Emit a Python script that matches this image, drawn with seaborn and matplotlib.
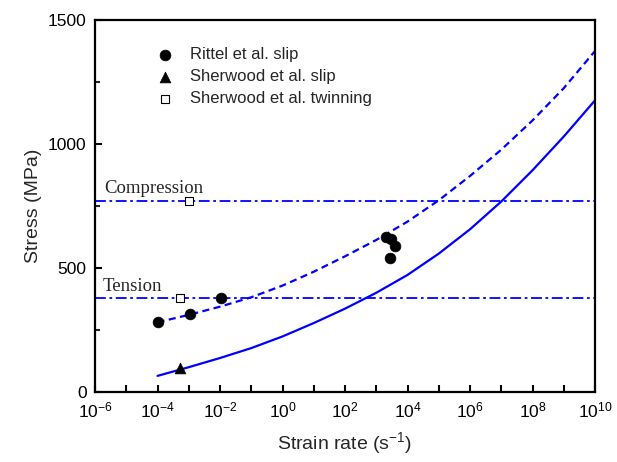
import numpy as np
import pandas as pd
import matplotlib
matplotlib.use("Agg")
import matplotlib.pyplot as plt
from matplotlib.ticker import FixedLocator
import seaborn as sns

# ---------------- data ----------------
rittel_rate = [1.0e-4, 1.1e-3, 1.1e-2, 2.0e3, 3.0e3, 3.9e3, 2.85e3]
rittel_stress = [281, 314, 378, 624, 617, 589, 539]

sher_slip_rate = [5.2e-4]
sher_slip_stress = [95]

sher_twin_rate = [1.0e-3, 5.2e-4]
sher_twin_stress = [770, 378]

compression_stress = 770
tension_stress = 378

curve_rate = [1e-4, 1e-3, 1e-2, 1e-1, 1e0, 1e1, 1e2, 1e3, 1e4, 1e5, 1e6, 1e7, 1e8, 1e9, 1e10]
dashed_stress = [281, 311, 344, 382, 429, 485, 547, 613, 687, 773, 871, 977, 1095, 1225, 1375]
solid_stress = [65, 100, 137, 177, 224, 278, 336, 400, 472, 558, 656, 768, 894, 1030, 1176]

x_tick_values = [1e-6, 1e-5, 1e-4, 1e-3, 1e-2, 1e-1, 1e0, 1e1, 1e2, 1e3, 1e4, 1e5, 1e6, 1e7, 1e8, 1e9, 1e10]
x_tick_labels = ["-6", "", "-4", "", "-2", "", "0", "", "2", "", "4", "", "6", "", "8", "", "10"]
y_tick_values = [0, 500, 1000, 1500]
y_minor_values = [250, 750, 1250]

legend_labels = ["Rittel et al. slip", "Sherwood et al. slip", "Sherwood et al. twinning"]

# ---------------- style ----------------
sns.set_theme(style="ticks")
plt.rcParams["font.family"] = ["Liberation Sans", "DejaVu Sans"]
plt.rcParams["mathtext.default"] = "regular"

fig = plt.figure(figsize=(6.17, 4.62), dpi=100)
ax = fig.add_axes([95 / 617, 1 - 392 / 462, 500 / 617, 372 / 462])

blue = "#0000FF"

curves = pd.DataFrame({"rate": curve_rate, "dashed": dashed_stress, "solid": solid_stress})
sns.lineplot(data=curves, x="rate", y="dashed", ax=ax, color=blue, lw=1.6,
             legend=False, label="_nolegend_")
ax.lines[-1].set_dashes((3.2, 2.0))
sns.lineplot(data=curves, x="rate", y="solid", ax=ax, color=blue, lw=1.6,
             legend=False, label="_nolegend_")

ax.axhline(compression_stress, color=blue, lw=1.3, dashes=(6, 2, 1.5, 2))
ax.axhline(tension_stress, color=blue, lw=1.3, dashes=(6, 2, 1.5, 2))

sns.scatterplot(x=rittel_rate, y=rittel_stress, ax=ax, marker="o", s=60,
                color="black", edgecolor="black", linewidth=0.5, label=legend_labels[0], zorder=5)
sns.scatterplot(x=sher_slip_rate, y=sher_slip_stress, ax=ax, marker="^", s=60,
                color="black", edgecolor="black", linewidth=0.5, label=legend_labels[1], zorder=5)
sns.scatterplot(x=sher_twin_rate, y=sher_twin_stress, ax=ax, marker="s", s=38,
                color="white", edgecolor="black", linewidth=0.8, label=legend_labels[2], zorder=5)

ax.text(10 ** -5.71, 802, "Compression", family=["Liberation Serif", "DejaVu Serif"],
        fontsize=13.5, va="baseline", ha="left")
ax.text(10 ** -5.75, 407, "Tension", family=["Liberation Serif", "DejaVu Serif"],
        fontsize=13.5, va="baseline", ha="left")

ax.set_xscale("log")
ax.set_xlim(1e-6, 1e10)
ax.set_ylim(0, 1500)

ax.xaxis.set_major_locator(FixedLocator(x_tick_values))
ax.set_xticklabels([("$10^{%s}$" % t) if t else "" for t in x_tick_labels])
ax.xaxis.set_minor_locator(FixedLocator([]))
ax.yaxis.set_major_locator(FixedLocator(y_tick_values))
ax.set_yticklabels([str(v) for v in y_tick_values])
ax.yaxis.set_minor_locator(FixedLocator(y_minor_values))

ax.tick_params(axis="both", which="major", direction="in", length=5, width=1.5,
               labelsize=12.5, pad=6, colors="black")
ax.tick_params(axis="both", which="minor", direction="in", length=3.5, width=1.5)
ax.tick_params(top=False, right=False, which="both")

for sp in ax.spines.values():
    sp.set_visible(True)
    sp.set_linewidth(1.6)
    sp.set_color("black")

ax.set_xlabel("Strain rate (s$^{-1}$)", fontsize=14, labelpad=7)
ax.set_ylabel("Stress (MPa)", fontsize=14, labelpad=4.5)

leg = ax.legend(loc="upper left", bbox_to_anchor=(0.11, 0.944), frameon=False,
                fontsize=12, handlelength=1.0, handletextpad=1.0, labelspacing=0.42,
                borderaxespad=0, markerscale=1.0)

fig.savefig("out.png", dpi=100)
